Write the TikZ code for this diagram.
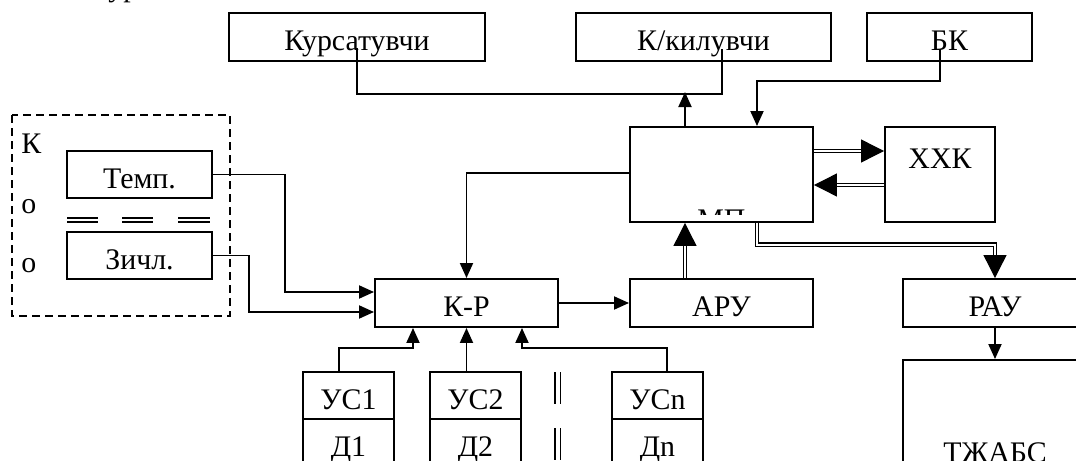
\documentclass[tikz,border=0pt]{standalone}
\usepackage{fontspec}
\setmainfont{Liberation Serif}
\usepackage{tikz}
\usetikzlibrary{arrows.meta}
\usetikzlibrary{calc}
\tikzset{
blk/.style args = {#1, #2}{ rectangle, draw = black, fill = white, line width = 1.1pt, minimum width = #1, minimum height = #2, inner sep = 0pt, text height = 5.4mm, text depth = 0mm },
lnk/.style = { draw = black, line width = 1.1pt, -{Triangle[length = 3mm, width = 2.6mm]} },
bus/.style = { draw = black, double = white, double distance = 0.5mm, line width = 0.7pt, -{Triangle[length = 4.6mm, width = 4.6mm]} },
tick/.style = { draw = black, line width = 1pt },
letter/.style = { anchor = base west, inner sep = 0pt },
}

\begin{document}
\begin{tikzpicture}[x = 0.2mm, y = -0.2mm, font = \fontsize{17}{20}\selectfont]
    \useasboundingbox (0, 0) rectangle (1076, 461);
    \clip (0, 0) rectangle (1076, 461);
    \node[letter] (ttl) at (108, -3.5) {ур};
    % top row
    \node[blk = {51.2mm, 9.6mm}] (kurs) at (357, 37) {Курсатувчи};
    \node[blk = {51mm, 9.6mm}] (kil) at (703.5, 37) {К/килувчи};
    \node[blk = {33mm, 9.6mm}] (bk) at (949.5, 37) {БК};
    \node[blk = {36.6mm, 19mm}] (mp) at (721.5, 174.5) {};
    \node[blk = {22mm, 19mm}, text depth = 8mm] (xxk) at (940, 174.5) {ХХК};
    \begin{scope}
        \clip (630, 127) rectangle (813, 214);
        \node (mptxt) at (721.5, 220) {МП};
    \end{scope}
    \node[blk = {36.6mm, 9.6mm}] (kr) at (466.5, 303) {К-Р};
    \node[blk = {36.6mm, 9.6mm}] (aru) at (721.5, 303) {АРУ};
    \node[blk = {36.8mm, 9.6mm}] (rau) at (995, 303) {РАУ};
    \node[blk = {36.8mm, 35.6mm}] (tjabs) at (995, 449) {ТЖАБС};
    % sensors group
    \draw[line width = 0.8pt, dash pattern = on 1.6mm off 1mm] (12, 115) rectangle (230, 316);
    \node[letter] (kl) at (21, 153) {К};
    \node[letter] (o1) at (21, 213) {о};
    \node[letter] (o2) at (21, 272) {о};
    \node[blk = {29mm, 9.4mm}] (temp) at (139.5, 174.5) {Темп.};
    \node[blk = {29mm, 9.4mm}] (zichl) at (139.5, 255.5) {Зичл.};
    \draw[tick] (67, 218) -- (98, 218) (67, 222) -- (98, 222);
    \draw[tick] (122, 218) -- (153, 218) (122, 222) -- (153, 222);
    \draw[tick] (178, 218) -- (210, 218) (178, 222) -- (210, 222);
    % bottom row
    \node[blk = {18.2mm, 9.4mm}] (us1) at (348.5, 395.5) {УС1};
    \node[blk = {18.2mm, 9.4mm}] (d1) at (348.5, 442.5) {Д1};
    \node[blk = {18.2mm, 9.4mm}] (us2) at (475.5, 395.5) {УС2};
    \node[blk = {18.2mm, 9.4mm}] (d2) at (475.5, 442.5) {Д2};
    \node[blk = {18.2mm, 9.4mm}] (usn) at (657.5, 395.5) {УСn};
    \node[blk = {18.2mm, 9.4mm}] (dn) at (657.5, 442.5) {Дn};
    \draw[tick] (555, 372) -- (555, 404) (560.5, 372) -- (560.5, 404);
    \draw[tick] (555, 428) -- (555, 460) (560.5, 428) -- (560.5, 460);
    % links
    \draw[line width = 1.1pt] ($(kurs.south)+(0, -14)$) -- ++(0, 46) -| ($(kil.south)+(18.5, -13)$);
    \draw[lnk] ($(mp.north)+(-36.5, 0)$) -- ++(0, -34);
    \draw[lnk] ($(bk.south)+(-9.5, -13)$) -- ++(0, 32) -| ($(mp.north)+(35.5, 0)$);
    \draw[bus] ($(mp.east)+(0, -23.5)$) -- ($(xxk.west)+(0, -23.5)$);
    \draw[bus] ($(xxk.west)+(0, 10.5)$) -- ($(mp.east)+(0, 10.5)$);
    \draw[lnk] ($(mp.west)+(0, -1.5)$) -| (kr.north);
    \draw[bus] ($(aru.north)+(-36.5, 0)$) -- ($(mp.south)+(-36.5, 0)$);
    \draw[bus] ($(mp.south)+(35.5, 0)$) -- ++(0, 22) -| (rau.north);
    \draw[lnk] (kr.east) -- (aru.west);
    \draw[lnk] (rau.south) -- (tjabs.north);
    \draw[lnk] (temp.east) -- ++(72, 0) |- ($(kr.west)+(0, -11)$);
    \draw[lnk] (zichl.east) -- ++(36, 0) |- ($(kr.west)+(0, 9)$);
    \draw[lnk] ($(us1.north)+(-9.5, 0)$) -- ++(0, -23) -| ($(kr.south)+(-53.5, 0)$);
    \draw[lnk] (us2.north -| kr.south) -- (kr.south);
    \draw[lnk] ($(usn.north)+(9.5, 0)$) -- ++(0, -23) -| ($(kr.south)+(55.5, 0)$);
\end{tikzpicture}
\end{document}
